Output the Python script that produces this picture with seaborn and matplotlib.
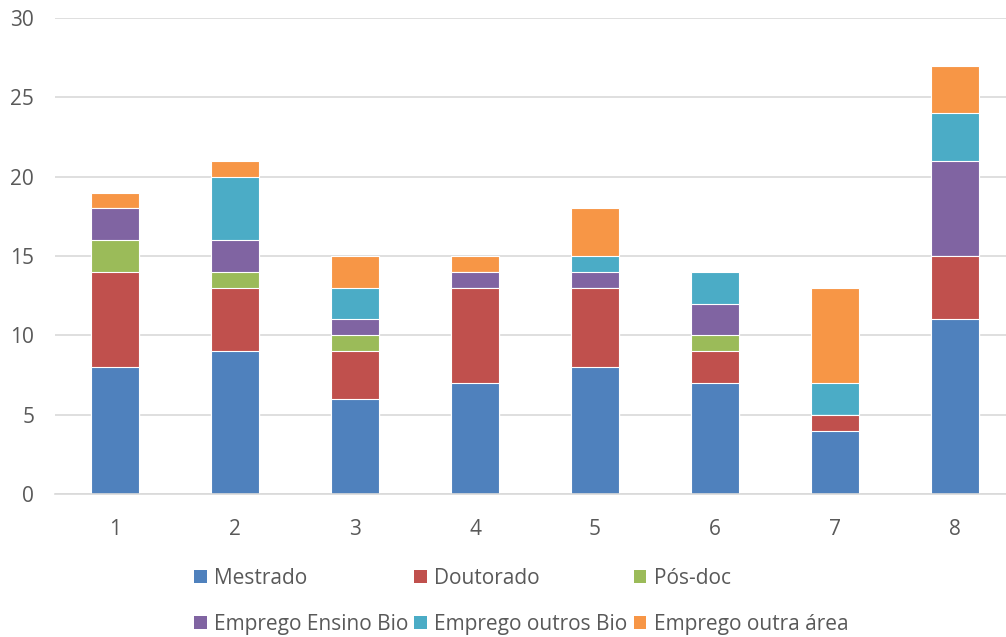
import numpy as np
import pandas as pd
import matplotlib.pyplot as plt
import seaborn as sns
from matplotlib.patches import Patch

# values
grupos = ["1", "2", "3", "4", "5", "6", "7", "8"]
mestrado = [8, 9, 6, 7, 8, 7, 4, 11]
doutorado = [6, 4, 3, 6, 5, 2, 1, 4]
pos_doc = [2, 1, 1, 0, 0, 1, 0, 0]
ensino_bio = [2, 2, 1, 1, 1, 2, 0, 6]
outros_bio = [0, 4, 2, 0, 1, 2, 2, 3]
outra_area = [1, 1, 2, 1, 3, 0, 6, 3]

series = ["Mestrado", "Doutorado", "Pós-doc", "Emprego Ensino Bio",
          "Emprego outros Bio", "Emprego outra área"]
cores = ["#4F81BD", "#C0504D", "#9BBB59", "#8064A2", "#4BACC6", "#F79646"]

df = pd.DataFrame({"grupo": grupos, series[0]: mestrado, series[1]: doutorado,
                   series[2]: pos_doc, series[3]: ensino_bio,
                   series[4]: outros_bio, series[5]: outra_area})
cum = df[series].cumsum(axis=1)

sns.set_theme(style="white")
plt.rcParams["font.family"] = ["Open Sans", "DejaVu Sans"]
texto = "#595959"

fig = plt.figure(figsize=(10.06, 6.37), dpi=100)
ax = fig.add_axes([55 / 1006, (637 - 494) / 637, (1006 - 55) / 1006, 476 / 637])

# stacked bars: draw cumulative totals from the top layer down
for i in reversed(range(len(series))):
    sns.barplot(x=df["grupo"], y=cum[series[i]], color=cores[i], width=0.4,
                saturation=1, edgecolor="white", linewidth=0.8, ax=ax, zorder=3)

ax.set_ylim(0, 30)
ax.set_xlim(-0.5, 7.425)
ax.set_yticks(range(0, 31, 5))
ax.yaxis.grid(True, color="#D9D9D9", linewidth=1.2, zorder=0)
ax.set_axisbelow(True)
for s in ["top", "right", "left"]:
    ax.spines[s].set_visible(False)
ax.spines["bottom"].set_color("#D9D9D9")
ax.spines["bottom"].set_linewidth(1.2)
ax.spines["bottom"].set_zorder(4)
ax.tick_params(axis="both", colors=texto, labelsize=15, length=0)
ax.tick_params(axis="y", pad=15)
ax.tick_params(axis="x", pad=18)
ax.set_xlabel("")
ax.set_ylabel("")

# legend filled row by row like the original
ordem = [0, 3, 1, 4, 2, 5]
handles = [Patch(facecolor=cores[i], edgecolor="none") for i in ordem]
labels = [series[i] for i in ordem]
fig.legend(handles, labels, loc="lower center", bbox_to_anchor=(0.518, -0.026),
           ncol=3, frameon=False, fontsize=15, labelcolor=texto,
           handlelength=0.6, handleheight=0.6, handletextpad=0.35,
           columnspacing=0.3, labelspacing=1.2)

fig.savefig("out.png", dpi=100)
